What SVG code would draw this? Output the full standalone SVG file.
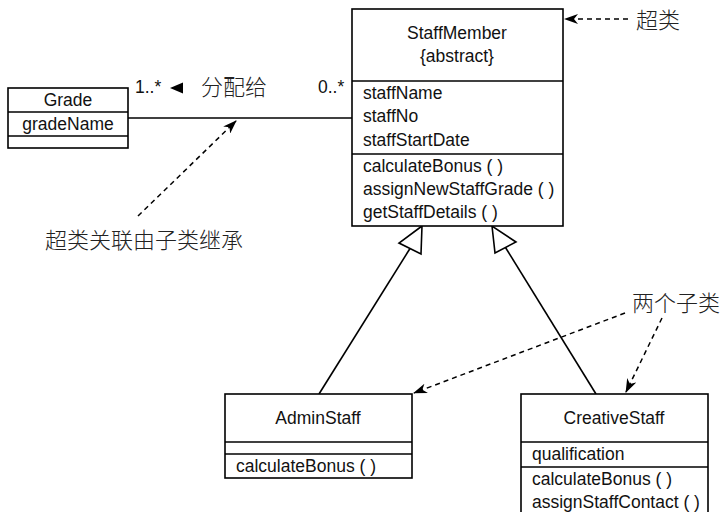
<svg xmlns="http://www.w3.org/2000/svg" width="721" height="512" viewBox="0 0 721 512">
  <style>
    .box { fill: #fff; stroke: #000; stroke-width: 1.6; }
    .div { stroke: #000; stroke-width: 1.6; }
    .t { font-family: "Liberation Sans", Arial, sans-serif; font-size: 17.5px; fill: #111; }
    .c { text-anchor: middle; }
    .cjk { font-family: "Noto Sans CJK SC", "Liberation Sans", sans-serif; font-size: 22px; font-weight: 300; fill: #222; }
    .assoc { stroke: #000; stroke-width: 1.5; fill: none; }
    .gen { stroke: #000; stroke-width: 1.6; fill: none; }
    .hollow { fill: #fff; stroke: #000; stroke-width: 1.6; stroke-linejoin: miter; }
    .note { stroke: #000; stroke-width: 1.5; fill: none; stroke-dasharray: 5 4; }
  </style>
  <defs>
    <marker id="barb" viewBox="0 0 14 10" refX="13" refY="5" markerWidth="14" markerHeight="10" markerUnits="userSpaceOnUse" orient="auto">
      <path d="M0,0 L14,5 L0,10 L4,5 Z" fill="#000"/>
    </marker>
  </defs>

  <rect width="721" height="512" fill="#fff"/>

  <!-- connectors -->
  <g id="connectors">
    <!-- association Grade - StaffMember -->
    <line class="assoc" x1="128" y1="118" x2="352" y2="118"/>
    <!-- generalizations -->
    <line class="gen" x1="319" y1="394" x2="410" y2="248.5"/>
    <polygon class="hollow" points="422,226 399,243 421,254"/>
    <line class="gen" x1="596" y1="394" x2="505.5" y2="247.5"/>
    <polygon class="hollow" points="492,226 495,253 516,242"/>
    <!-- annotation arrows -->
    <line class="note" x1="628" y1="19" x2="565" y2="19" marker-end="url(#barb)"/>
    <line class="note" x1="138" y1="216" x2="236" y2="121" marker-end="url(#barb)"/>
    <line class="note" x1="625" y1="313" x2="414" y2="393" marker-end="url(#barb)"/>
    <line class="note" x1="662" y1="318" x2="626" y2="392" marker-end="url(#barb)"/>
  </g>

  <!-- association labels -->
  <g id="assoc-labels">
    <text class="t" x="135" y="93">1..*</text>
    <polygon points="170,88 183,82.5 183,93.5" fill="#000"/>
    <text class="cjk" x="201" y="95">分配给</text>
    <text class="t" x="318" y="93">0..*</text>
  </g>

  <g id="Grade">
    <rect class="box" x="8" y="88" width="120" height="60"/>
    <line class="div" x1="8" y1="112" x2="128" y2="112"/>
    <line class="div" x1="8" y1="136" x2="128" y2="136"/>
    <text class="t c" x="68" y="106">Grade</text>
    <text class="t c" x="68" y="130">gradeName</text>
  </g>

  <g id="StaffMember">
    <rect class="box" x="352" y="9" width="211" height="217"/>
    <line class="div" x1="352" y1="81" x2="563" y2="81"/>
    <line class="div" x1="352" y1="154" x2="563" y2="154"/>
    <text class="t c" x="457" y="39">StaffMember</text>
    <text class="t c" x="457" y="62">{abstract}</text>
    <text class="t" x="363" y="99">staffName</text>
    <text class="t" x="363" y="122">staffNo</text>
    <text class="t" x="363" y="146">staffStartDate</text>
    <text class="t" x="363" y="172">calculateBonus ( )</text>
    <text class="t" x="363" y="195">assignNewStaffGrade ( )</text>
    <text class="t" x="363" y="218">getStaffDetails ( )</text>
  </g>

  <g id="AdminStaff">
    <rect class="box" x="225" y="394" width="187" height="84"/>
    <line class="div" x1="225" y1="442" x2="412" y2="442"/>
    <line class="div" x1="225" y1="454" x2="412" y2="454"/>
    <text class="t c" x="318" y="424">AdminStaff</text>
    <text class="t" x="236" y="472">calculateBonus ( )</text>
  </g>

  <g id="CreativeStaff">
    <rect class="box" x="521" y="394" width="187" height="130"/>
    <line class="div" x1="521" y1="442" x2="708" y2="442"/>
    <line class="div" x1="521" y1="467" x2="708" y2="467"/>
    <text class="t c" x="614" y="424">CreativeStaff</text>
    <text class="t" x="532" y="460">qualification</text>
    <text class="t" x="532" y="485">calculateBonus ( )</text>
    <text class="t" x="532" y="508">assignStaffContact ( )</text>
  </g>

  <!-- annotations -->
  <g id="notes">
    <text class="cjk" x="636" y="28">超类</text>
    <text class="cjk" x="45" y="248">超类关联由子类继承</text>
    <text class="cjk" x="632" y="311">两个子类</text>
  </g>
</svg>
